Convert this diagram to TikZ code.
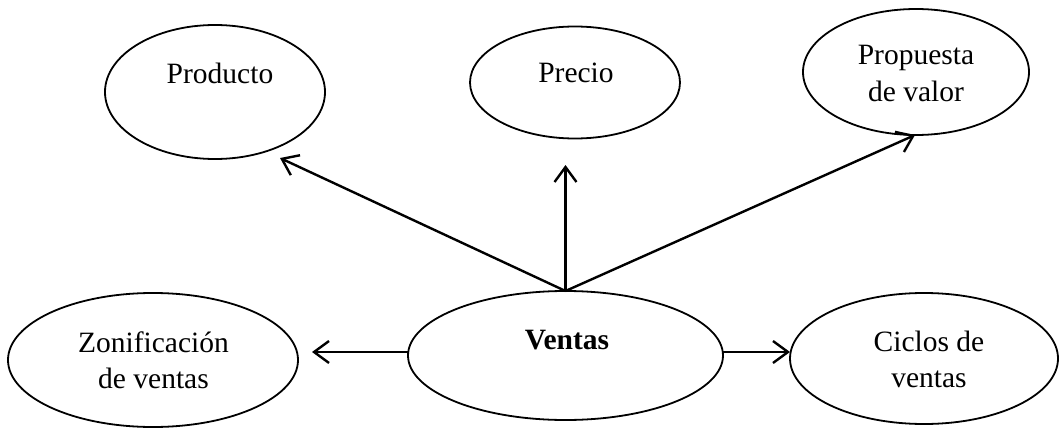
\documentclass[tikz,border=0pt]{standalone}
\usepackage{fontspec}
\setmainfont{Liberation Serif}
\usetikzlibrary{shapes.geometric,arrows.meta}
\begin{document}
\begin{tikzpicture}[x=1pt,y=-1pt,
  oval/.style={draw=black,line width=1.8pt,ellipse,inner sep=0pt,outer sep=0pt},
  lbl/.style={font=\fontsize{29.5}{36}\selectfont,align=center,anchor=base,inner sep=0pt},
  arr/.style={line width=2.4pt,-{Straight Barb[length=15pt,width=22pt]}}]
\useasboundingbox (0,0) rectangle (1060,428);
% ellipses
\node[oval,minimum width=220pt,minimum height=134pt] (producto) at (215,92) {};
\node[oval,minimum width=210pt,minimum height=112pt] (precio) at (575,82.5) {};
\node[oval,minimum width=226pt,minimum height=126pt] (propuesta) at (916,72) {};
\node[oval,minimum width=290pt,minimum height=134pt] (zonif) at (153,360) {};
\node[oval,minimum width=315pt,minimum height=129pt] (ventas) at (565.5,355.5) {};
\node[oval,minimum width=268pt,minimum height=131pt] (ciclos) at (924,358.5) {};
% labels (multi-line nodes: base = last line)
\node[lbl] (producto-t) at (220,84) {Producto};
\node[lbl] (precio-t) at (576,82) {Precio};
\node[lbl] (propuesta-t) at (916,101) {Propuesta\\de valor};
\node[lbl] (zonif-t) at (153.5,388) {Zonificación\\de ventas};
\node[lbl,font=\fontsize{29.5}{36}\selectfont\bfseries] (ventas-t) at (567,349) {Ventas};
\node[lbl] (ciclos-t) at (929,387) {Ciclos de\\ventas};
% arrow ends
\coordinate (tp) at (280,158);
\coordinate (tc) at (565.5,165);
\coordinate (tv) at (915,135);
\coordinate (tz) at (312,352);
\coordinate (tk) at (790,352);
\draw[arr] (ventas.north) -- (tp);
\draw[arr] (ventas.north) -- (tc);
\draw[arr] (ventas.north) -- (tv);
\draw[arr] (ventas.west |- tz) -- (tz);
\draw[arr] (ventas.east |- tk) -- (tk);
\end{tikzpicture}
\end{document}
